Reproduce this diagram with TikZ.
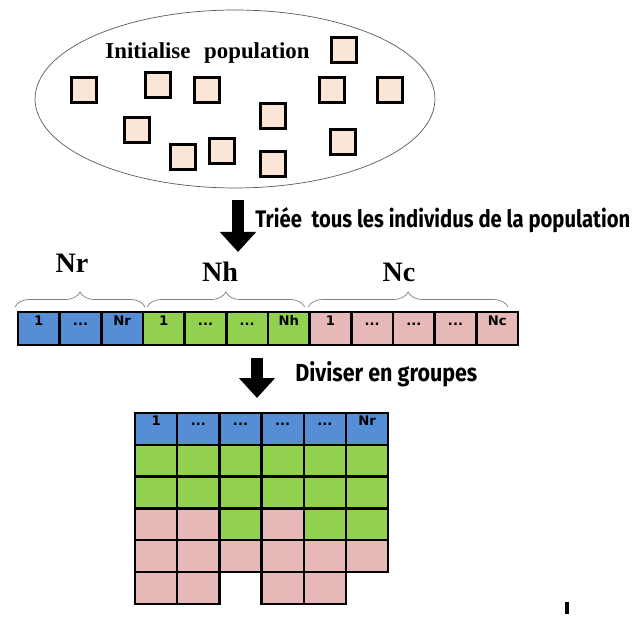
\documentclass[tikz,border=0pt]{standalone}
\usepackage{fontspec}
\setmainfont{Liberation Serif}
\newfontfamily\condfont{Fira Sans}
\newfontfamily\cellfont{DejaVu Sans}
\usetikzlibrary{shapes.geometric,arrows.meta,decorations.pathreplacing}

\definecolor{indpeach}{HTML}{FBE5D6}
\definecolor{indblue}{HTML}{558ED5}
\definecolor{indgreen}{HTML}{92D050}
\definecolor{indpink}{HTML}{E6B8B7}

\begin{document}
\begin{tikzpicture}[x=0.02cm, y=-0.02cm,
  indiv/.style={draw=black, line width=1.8pt, fill=indpeach, minimum size=0.5cm, inner sep=0pt},
  cell/.style={draw=black, line width=1.4pt, inner sep=0pt, outer sep=0pt,
    minimum width=0.833cm, minimum height=0.66cm, text height=4.5pt, text depth=8pt,
    font=\cellfont\bfseries\fontsize{7.5}{8}\selectfont},
  gcell/.style={cell, minimum width=0.844cm, minimum height=0.636cm},
  rr/.style={fill=indblue},
  hh/.style={fill=indgreen},
  cc/.style={fill=indpink},
  bigarrow/.style={line width=0.23cm, -{Triangle[width=0.7cm,length=0.4cm]}},
  grp/.style={draw=gray, thin, decorate, decoration={brace, amplitude=0.3cm}},
  grplabel/.style={anchor=base, font=\bfseries\fontsize{16}{18}\selectfont},
  steptext/.style={anchor=base west, inner sep=0pt}]

\useasboundingbox (0,0) rectangle (635,617);

% population
\node [ellipse, draw=black!65, thin, minimum width=8cm, minimum height=3.56cm] (pop) at (235,99) {};
\node [anchor=base, font=\bfseries\fontsize{13}{15}\selectfont] (poptxt) at (207.5,59) {Initialise\hspace{0.6em}population};

\node [indiv] (p1) at (344,50) {};
\node [indiv] (p2) at (84,90) {};
\node [indiv] (p3) at (158,85) {};
\node [indiv] (p4) at (207,90) {};
\node [indiv] (p5) at (332,90) {};
\node [indiv] (p6) at (390,90) {};
\node [indiv] (p7) at (273,116) {};
\node [indiv] (p8) at (137,130) {};
\node [indiv] (p9) at (183,157) {};
\node [indiv] (p10) at (222,151) {};
\node [indiv] (p11) at (273,164) {};
\node [indiv] (p12) at (343,142) {};

% sorting step
\coordinate (a1top) at (238,200);
\coordinate (a1tip) at (238,252);
\draw [bigarrow] (a1top) -- (a1tip);
\node [steptext] (sorttxt) at (255,228) {\resizebox{7.5cm}{0.4cm}{\condfont\bfseries Triée\ \ tous les individus de la population}};

% sorted population
\node [cell, rr] (b1) at (38.8,328.5) {1};
\node [cell, rr] (b2) at (80.5,328.5) {...};
\node [cell, rr] (b3) at (122.2,328.5) {Nr};
\node [cell, hh] (b4) at (163.8,328.5) {1};
\node [cell, hh] (b5) at (205.5,328.5) {...};
\node [cell, hh] (b6) at (247.2,328.5) {...};
\node [cell, hh] (b7) at (288.8,328.5) {Nh};
\node [cell, cc] (b8) at (330.5,328.5) {1};
\node [cell, cc] (b9) at (372.2,328.5) {...};
\node [cell, cc] (b10) at (413.8,328.5) {...};
\node [cell, cc] (b11) at (455.5,328.5) {...};
\node [cell, cc] (b12) at (497.2,328.5) {Nc};

\draw [grp] ([xshift=-0.06cm, yshift=0.1cm]b1.north west) -- ([xshift=0.04cm, yshift=0.1cm]b3.north east);
\draw [grp] ([xshift=0.08cm, yshift=0.1cm]b4.north west) -- ([xshift=-0.1cm, yshift=0.1cm]b7.north east);
\draw [grp] ([xshift=-0.03cm, yshift=0.1cm]b8.north west) -- ([xshift=-0.2cm, yshift=0.1cm]b12.north east);

\node [grplabel] (nr) at (72,273) {Nr};
\node [grplabel] (nh) at (220,282) {Nh};
\node [grplabel] (nc) at (399,282) {Nc};

% dividing step
\coordinate (a2top) at (257,358);
\coordinate (a2tip) at (257,398);
\draw [bigarrow] (a2top) -- (a2tip);
\node [steptext] (divtxt) at (295,382) {\resizebox{3.64cm}{0.4cm}{\condfont\bfseries Diviser en groupes}};

% groups
\node [gcell, rr] (g01) at (156.1,428.9) {1};
\node [gcell, rr] (g02) at (198.3,428.9) {...};
\node [gcell, rr] (g03) at (240.5,428.9) {...};
\node [gcell, rr] (g04) at (282.7,428.9) {...};
\node [gcell, rr] (g05) at (324.9,428.9) {...};
\node [gcell, rr] (g06) at (367.1,428.9) {Nr};

\node [gcell, hh] (g11) at (156.1,460.7) {};
\node [gcell, hh] (g12) at (198.3,460.7) {};
\node [gcell, hh] (g13) at (240.5,460.7) {};
\node [gcell, hh] (g14) at (282.7,460.7) {};
\node [gcell, hh] (g15) at (324.9,460.7) {};
\node [gcell, hh] (g16) at (367.1,460.7) {};

\node [gcell, hh] (g21) at (156.1,492.5) {};
\node [gcell, hh] (g22) at (198.3,492.5) {};
\node [gcell, hh] (g23) at (240.5,492.5) {};
\node [gcell, hh] (g24) at (282.7,492.5) {};
\node [gcell, hh] (g25) at (324.9,492.5) {};
\node [gcell, hh] (g26) at (367.1,492.5) {};

\node [gcell, cc] (g31) at (156.1,524.3) {};
\node [gcell, cc] (g32) at (198.3,524.3) {};
\node [gcell, hh] (g33) at (240.5,524.3) {};
\node [gcell, cc] (g34) at (282.7,524.3) {};
\node [gcell, hh] (g35) at (324.9,524.3) {};
\node [gcell, hh] (g36) at (367.1,524.3) {};

\node [gcell, cc] (g41) at (156.1,556.1) {};
\node [gcell, cc] (g42) at (198.3,556.1) {};
\node [gcell, cc] (g43) at (240.5,556.1) {};
\node [gcell, cc] (g44) at (282.7,556.1) {};
\node [gcell, cc] (g45) at (324.9,556.1) {};
\node [gcell, cc] (g46) at (367.1,556.1) {};

\node [gcell, cc] (g51) at (156.1,587.9) {};
\node [gcell, cc] (g52) at (198.3,587.9) {};
\node [gcell, cc] (g54) at (282.7,587.9) {};
\node [gcell, cc] (g55) at (324.9,587.9) {};

\fill (565,602) rectangle (569,614);

\end{tikzpicture}
\end{document}
